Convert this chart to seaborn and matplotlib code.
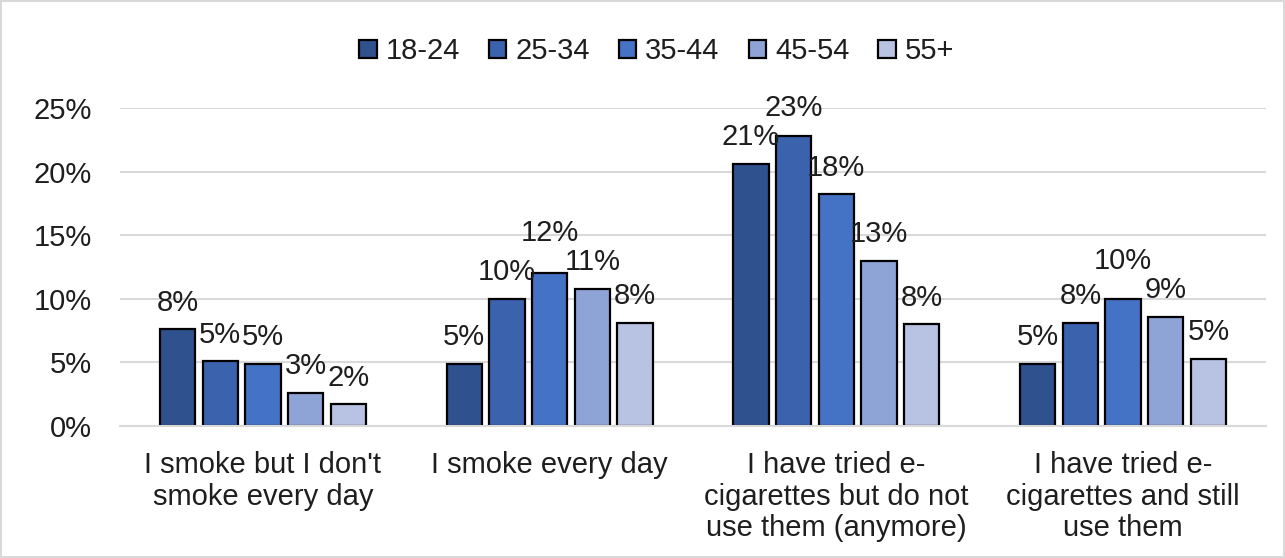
import matplotlib
matplotlib.use("Agg")
import matplotlib.pyplot as plt
import seaborn as sns
import pandas as pd
from matplotlib.ticker import FuncFormatter

# Smoking / vaping behaviour by age group (percent of respondents)
categories = [
    "I smoke but I don't\nsmoke every day",
    "I smoke every day",
    "I have tried e-\ncigarettes but do not\nuse them (anymore)",
    "I have tried e-\ncigarettes and still\nuse them",
]
age_groups = ["18-24", "25-34", "35-44", "45-54", "55+"]
share_18_24 = [7.6, 4.9, 20.6, 4.9]
share_25_34 = [5.1, 10.0, 22.8, 8.1]
share_35_44 = [4.9, 12.0, 18.2, 10.0]
share_45_54 = [2.6, 10.8, 13.0, 8.6]
share_55_plus = [1.7, 8.1, 8.0, 5.3]
colors = ["#2F528F", "#3A62AD", "#4472C4", "#8FA4D6", "#B8C2E2"]

series = [share_18_24, share_25_34, share_35_44, share_45_54, share_55_plus]
df = pd.DataFrame(
    [(cat, grp, val)
     for grp, vals in zip(age_groups, series)
     for cat, val in zip(categories, vals)],
    columns=["category", "age", "share"],
)

sns.set_theme(style="white")
plt.rcParams["font.family"] = ["Liberation Sans", "DejaVu Sans"]
text_color = "#1E1E1E"

fig = plt.figure(figsize=(12.85, 5.58), dpi=100)
ax = fig.add_axes([0.093, 0.2366, 0.8926, 0.5699])

sns.barplot(
    data=df, x="category", y="share", hue="age",
    order=categories, hue_order=age_groups, palette=colors,
    width=0.744, gap=0.17, edgecolor="black", linewidth=1.6,
    saturation=1, ax=ax, legend=True,
)

label_sets = []
for container in ax.containers:
    label_sets.append(ax.bar_label(container, fmt="{:.0f}%", padding=9,
                                   fontsize=21, color=text_color,
                                   clip_on=False))

ax.set_ylim(0, 25)
ax.set_yticks([0, 5, 10, 15, 20, 25])
ax.yaxis.set_major_formatter(FuncFormatter(lambda v, _: f"{v:.0f}%"))
ax.grid(axis="y", color="#D9D9D9", linewidth=1.5)
ax.set_axisbelow(True)
for side in ["top", "right", "left"]:
    ax.spines[side].set_visible(False)
ax.spines["bottom"].set_color("#D9D9D9")
ax.spines["bottom"].set_linewidth(1.5)
ax.set_xlabel("")
ax.set_ylabel("")
ax.tick_params(axis="y", length=0, pad=20, labelsize=21, labelcolor=text_color)
ax.tick_params(axis="x", length=0, pad=18, labelsize=21, labelcolor=text_color)
for lbl in ax.get_xticklabels():
    lbl.set_linespacing(1.17)

# Lift a value label when it collides with its left/right neighbour
fig.canvas.draw()
renderer = fig.canvas.get_renderer()
for g in range(len(categories)):
    row = [label_sets[h][g] for h in range(len(age_groups))]
    for i in range(len(row) - 1):
        a, b = row[i], row[i + 1]
        ba, bb = a.get_window_extent(renderer), b.get_window_extent(renderer)
        if ba.overlaps(bb):
            upper, lower, bu, bl = (a, b, ba, bb) if ba.y0 >= bb.y0 else (b, a, bb, ba)
            lift = bl.y1 - bu.y0 + 1
            x, y = upper.xyann
            upper.xyann = (x, y + lift * 72 / fig.dpi)

handles, labels = ax.get_legend_handles_labels()
ax.legend_.remove()
fig.legend(
    handles, labels, loc="center", bbox_to_anchor=(0.511, 0.908), ncol=5,
    frameon=False, fontsize=21, handlelength=0.6, handleheight=0.6,
    handletextpad=0.3, columnspacing=1.0, labelcolor=text_color,
)

fig.patch.set_edgecolor("#D9D9D9")
fig.patch.set_linewidth(1.5)
fig.savefig("out.png", dpi=100, edgecolor=fig.get_edgecolor())
